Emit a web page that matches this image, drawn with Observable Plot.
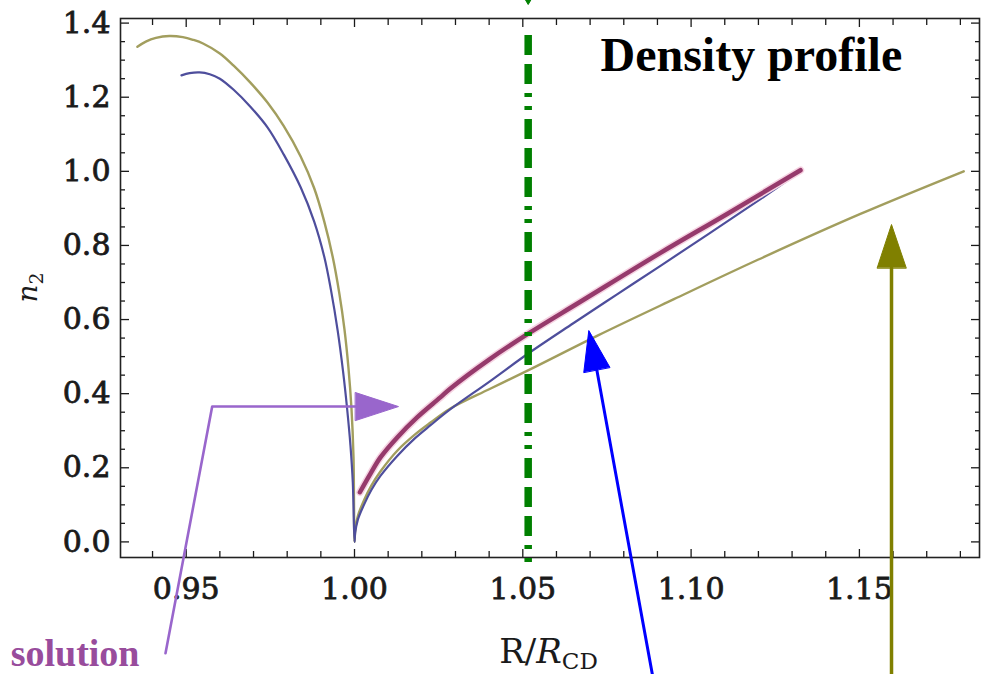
<!DOCTYPE html>
<html>
<head>
<meta charset="utf-8">
<script src="https://cdn.jsdelivr.net/npm/d3@7"></script>
<script src="https://cdn.jsdelivr.net/npm/@observablehq/plot@0.6"></script>
<style>
  html, body { margin: 0; padding: 0; background: #fff; }
  #chart svg { display: block; }
  #chart g[aria-label="x-axis tick label"] text,
  #chart g[aria-label="y-axis tick label"] text {
    stroke: #1a1a1a; stroke-width: 0.8px; paint-order: stroke;
  }
</style>
</head>
<body>
<div id="chart"></div>
<script>
// Density n2 across the contact discontinuity, plotted against R / R_CD.

// Olive curve (widest profile)
const oliveR = [0.9355, 0.9380, 0.9410, 0.9450, 0.9490, 0.9520, 0.9550, 0.9600, 0.9641, 0.9690,
                0.9742, 0.9790, 0.9840, 0.9880, 0.9910, 0.9935, 0.9955, 0.9970, 0.9982, 0.9991,
                0.9997, 1.0000,
                1.0002, 1.0010, 1.0028, 1.0050, 1.0077, 1.0127, 1.0180, 1.0226, 1.0285, 1.0400,
                1.0514, 1.0725, 1.0949, 1.1200, 1.1503, 1.1810];
const oliveN = [1.336, 1.350, 1.360, 1.365, 1.362, 1.355, 1.345, 1.318, 1.285, 1.240,
                1.185, 1.122, 1.040, 0.955, 0.865, 0.770, 0.670, 0.575, 0.470, 0.360,
                0.230, 0.000,
                0.030, 0.070, 0.112, 0.152, 0.190, 0.246, 0.290, 0.322, 0.360, 0.412,
                0.462, 0.558, 0.655, 0.762, 0.885, 1.000];

// Blue curve
const blueR = [0.9486, 0.9510, 0.9540, 0.9570, 0.9600, 0.9641, 0.9690, 0.9742, 0.9790, 0.9840,
               0.9880, 0.9910, 0.9930, 0.9950, 0.9966, 0.9978, 0.9988, 0.9995, 1.0000,
               1.0002, 1.0010, 1.0028, 1.0050, 1.0077, 1.0127, 1.0180, 1.0226, 1.0285, 1.0400,
               1.0514, 1.0650, 1.0780, 1.0909, 1.1050, 1.1206, 1.1325];
const blueN = [1.259, 1.265, 1.267, 1.262, 1.250, 1.220, 1.175, 1.118, 1.045, 0.957,
               0.865, 0.770, 0.680, 0.570, 0.460, 0.360, 0.260, 0.160, 0.000,
               0.025, 0.060, 0.100, 0.140, 0.178, 0.232, 0.280, 0.315, 0.358, 0.432,
               0.507, 0.590, 0.668, 0.745, 0.830, 0.925, 1.000];

// Thick magenta curve (solution)
const pinkR = [1.0016, 1.0048, 1.0077, 1.0127, 1.0186, 1.0255, 1.0285, 1.0400, 1.0516,
               1.0671, 1.0909, 1.1107, 1.1325];
const pinkN = [0.134, 0.185, 0.228, 0.282, 0.336, 0.390, 0.414, 0.492, 0.562,
               0.648, 0.780, 0.885, 1.003];

// Marker position R / R_CD
const markerR = [1.0516];

// Axis ticks and their labels
const xMajor = [0.95, 1.00, 1.05, 1.10, 1.15];
const xMajorLabels = ["0.95", "1.00", "1.05", "1.10", "1.15"];
const xMinor = [0.94, 0.96, 0.97, 0.98, 0.99, 1.01, 1.02, 1.03, 1.04, 1.06, 1.07, 1.08, 1.09,
                1.11, 1.12, 1.13, 1.14, 1.16, 1.17, 1.18];
const yMajor = [0.0, 0.2, 0.4, 0.6, 0.8, 1.0, 1.2, 1.4];
const yMajorLabels = ["0.0", "0.2", "0.4", "0.6", "0.8", "1.0", "1.2", "1.4"];
const yMinor = [0.05, 0.1, 0.15, 0.25, 0.3, 0.35, 0.45, 0.5, 0.55, 0.65, 0.7, 0.75,
                0.85, 0.9, 0.95, 1.05, 1.1, 1.15, 1.25, 1.3, 1.35];

const pts = (xs, ys) => xs.map((r, i) => ({r, n: ys[i]}));
const olive = pts(oliveR, oliveN);
const blue = pts(blueR, blueN);
const pink = pts(pinkR, pinkN);

// Annotation pointers, in data units
const purplePath = pts([0.94385, 0.95772, 1.0003], [-0.3006, 0.3652, 0.3652]);
const purpleHead = pts([1.0003, 1.01307, 1.0003], [0.4030, 0.3652, 0.3274]);
const bluePath = pts([1.08883, 1.07198], [-0.37436, 0.46451]);
const blueHead = pts([1.06812, 1.06961, 1.07585], [0.45776, 0.57031, 0.47126]);
const olivePath = pts([1.15954, 1.15954], [-0.37436, 0.73954]);
const oliveHead = pts([1.15529, 1.15954, 1.16390], [0.73954, 0.85641, 0.73954]);
const greenTip = pts([1.0507, 1.0516, 1.0525], [1.4640, 1.4502, 1.4640]);

const fmtX = d => xMajorLabels[xMajor.indexOf(d)];
const fmtY = d => yMajorLabels[yMajor.indexOf(d)];
const blank = () => "";

const chart = Plot.plot({
  width: 988,
  height: 674,
  marginLeft: 120,
  marginRight: 9,
  marginTop: 18,
  marginBottom: 117,
  x: {domain: [0.93048, 1.18568]},
  y: {domain: [-0.0421, 1.41242]},
  style: {fontFamily: "DejaVu Serif", background: "#fff", color: "#1a1a1a"},
  marks: [
    // inward ticks on all four sides
    Plot.axisX(xMajor, {anchor: "bottom", tickSize: -8, tickFormat: blank, label: null, strokeWidth: 1.3}),
    Plot.axisX(xMinor, {anchor: "bottom", tickSize: -6, tickFormat: blank, label: null, strokeWidth: 1.3}),
    Plot.axisX(xMajor, {anchor: "top", tickSize: -8, tickFormat: blank, label: null, strokeWidth: 1.3}),
    Plot.axisX(xMinor, {anchor: "top", tickSize: -6, tickFormat: blank, label: null, strokeWidth: 1.3}),
    Plot.axisY(yMajor, {anchor: "left", tickSize: -9, tickFormat: blank, label: null, strokeWidth: 1.3}),
    Plot.axisY(yMinor, {anchor: "left", tickSize: -5, tickFormat: blank, label: null, strokeWidth: 1.3}),
    Plot.axisY(yMajor, {anchor: "right", tickSize: -9, tickFormat: blank, label: null, strokeWidth: 1.3}),
    Plot.axisY(yMinor, {anchor: "right", tickSize: -5, tickFormat: blank, label: null, strokeWidth: 1.3}),
    // tick labels
    Plot.axisX(xMajor, {anchor: "bottom", tickSize: 0, tickPadding: 20, tickFormat: fmtX, label: null,
                        fontSize: 30, lineAnchor: "top", fill: "#1a1a1a"}),
    Plot.axisY(yMajor, {anchor: "left", tickSize: 0, tickPadding: 10, tickFormat: fmtY, label: null,
                        fontSize: 30, fill: "#1a1a1a"}),
    Plot.frame({stroke: "#222", strokeWidth: 1.6}),

    // profiles
    Plot.line(olive, {x: "r", y: "n", stroke: "#a29e5e", strokeWidth: 2.4, curve: "catmull-rom"}),
    Plot.line(blue, {x: "r", y: "n", stroke: "#4e4e9c", strokeWidth: 2.2, curve: "catmull-rom"}),
    Plot.line(pink, {x: "r", y: "n", stroke: "#f6d3e2", strokeWidth: 7.5, curve: "catmull-rom"}),
    Plot.line(pink, {x: "r", y: "n", stroke: "#963a6c", strokeWidth: 4.5, curve: "catmull-rom"}),

    // marker line
    Plot.ruleX(markerR, {x: d => d, y1: 1.36653, y2: -0.05857, stroke: "#008000", strokeWidth: 7.5,
                         strokeDasharray: "20,9,20,9,4,9,4,9,20,9"}),
    Plot.line(greenTip, {x: "r", y: "n", fill: "#008000", stroke: "#008000", strokeWidth: 1, curve: "linear-closed"}),

    // pointers
    Plot.line(purplePath, {x: "r", y: "n", stroke: "#9966cc", strokeWidth: 2.6}),
    Plot.line(purpleHead, {x: "r", y: "n", fill: "#9966cc", stroke: "#9966cc", strokeWidth: 1, curve: "linear-closed"}),
    Plot.line(bluePath, {x: "r", y: "n", stroke: "#0000ff", strokeWidth: 3}),
    Plot.line(blueHead, {x: "r", y: "n", fill: "#0000ff", stroke: "#0000ff", strokeWidth: 1, curve: "linear-closed"}),
    Plot.line(olivePath, {x: "r", y: "n", stroke: "#808000", strokeWidth: 3.5}),
    Plot.line(oliveHead, {x: "r", y: "n", fill: "#808000", stroke: "#808000", strokeWidth: 1, curve: "linear-closed"}),

    // texts
    Plot.text(["Density profile"], {x: 1.07308, y: 1.2720, text: d => d, textAnchor: "start", lineAnchor: "bottom",
                                    fontFamily: "Liberation Serif", fontWeight: "bold", fontSize: 48, fill: "#000"}),
    Plot.text(["solution"], {x: 0.93612, y: -0.33387, text: d => d, textAnchor: "end", lineAnchor: "bottom",
                             fontFamily: "Liberation Serif", fontWeight: "bold", fontSize: 38, fill: "#984c9c"}),
    Plot.text(["R/R"], {x: 1.05764, y: -0.3258, text: d => d, textAnchor: "middle", lineAnchor: "bottom",
                        fontSize: 34, fill: "#1a1a1a", className: "xlab"}),
    Plot.text(["n"], {x: 0.90314, y: 0.6864, text: d => d, textAnchor: "middle", lineAnchor: "middle",
                      rotate: -90, fontSize: 28, fill: "#1a1a1a", className: "ylab"})
  ]
});

// axis titles with italic symbols and subscripts
const xl = d3.select(chart).select(".xlab text");
xl.text(null);
xl.append("tspan").text("R/");
xl.append("tspan").attr("font-style", "italic").text("R");
xl.append("tspan").attr("font-size", 23).attr("dy", 6).text("CD");

const yl = d3.select(chart).select(".ylab text");
yl.text(null);
yl.append("tspan").attr("font-style", "italic").text("n");
yl.append("tspan").attr("font-size", 19).attr("dy", 6).text("2");

document.getElementById("chart").append(chart);
</script>
</body>
</html>
